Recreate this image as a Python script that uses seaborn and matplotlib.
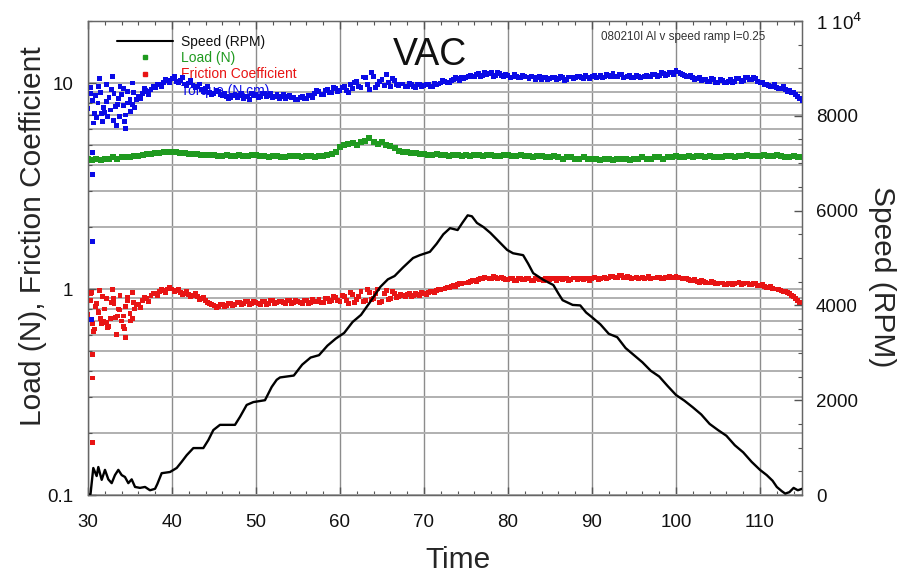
import numpy as np
import pandas as pd
import matplotlib
matplotlib.use("Agg")
import matplotlib.pyplot as plt
import seaborn as sns
from matplotlib.lines import Line2D
from matplotlib.ticker import LogLocator, FixedLocator, MultipleLocator, FuncFormatter, NullFormatter

# ---------------- data ----------------
# sampling grids for the scatter series (seconds)
TIME_GRID = np.arange(30.0, 115.01, 0.5)
TIME_GRID_B = np.arange(30.25, 114.8, 0.5)

TORQUE = [
    7.5, 8.2, 6.8, 9.0, 7.2, 8.5, 6.6, 7.9, 8.8, 7.0,
    8.3, 7.6, 8.6, 8.9, 9.1, 9.3, 9.5, 9.8, 10.1, 10.3,
    10.5, 10.2, 10.3, 9.9, 10.0, 9.7, 9.6, 9.3, 9.4, 9.0,
    8.9, 9.1, 8.7, 8.6, 8.5, 8.8, 8.7, 8.4, 8.6, 8.9,
    8.8, 8.6, 8.9, 8.7, 8.5, 8.8, 8.6, 8.4, 8.7, 8.5,
    8.3, 8.6, 8.4, 8.7, 8.9, 9.1, 8.8, 9.3, 9.0, 9.4,
    9.2, 9.6, 9.0, 9.4, 10.2, 9.5, 10.6, 9.3, 10.8, 9.8,
    10.4, 11.0, 9.6, 10.3, 9.7, 9.9, 9.6, 9.8, 9.5, 9.8,
    9.7, 9.9, 9.6, 9.8, 10.0, 10.2, 10.1, 10.4, 10.5, 10.7,
    10.6, 10.9, 10.8, 11.1, 10.9, 11.0, 11.2, 10.9, 11.1, 10.8,
    10.9, 10.7, 10.8, 10.6, 10.8, 10.5, 10.7, 10.6, 10.4, 10.6,
    10.5, 10.7, 10.5, 10.6, 10.4, 10.7, 10.6, 10.8, 10.5, 10.7,
    10.8, 10.6, 10.9, 10.7, 10.9, 11.1, 10.8, 11.0, 10.7, 10.9,
    10.6, 10.8, 10.7, 10.9, 10.8, 11.0, 10.9, 11.1, 11.0, 11.3,
    11.5, 11.1, 10.9, 10.8, 10.6, 10.5, 10.3, 10.4, 10.2, 10.4,
    10.1, 10.3, 10.0, 10.4, 10.2, 10.5, 10.3, 10.6, 10.4, 10.5,
    10.0, 9.8, 9.7, 9.6, 9.5, 9.4, 9.3, 9.2, 9.0, 8.6,
    8.2,
]
TORQUE_B = [
    8.9, 7.1, 9.6, 6.5, 8.1, 9.3, 7.7, 6.9, 9.4, 8.0,
    7.9, 8.3, 8.4, 9.4, 8.8, 9.6, 9.9, 9.6, 10.4, 10.0,
    10.8, 10.0, 10.6, 9.7, 10.3, 9.5, 9.9, 9.1, 9.6, 8.8,
    9.2, 8.8, 8.9, 8.4, 8.7, 8.5, 8.9, 8.6, 8.3, 8.7,
    8.5, 8.9, 8.6, 8.9, 8.6, 8.4, 8.8, 8.6, 8.5, 8.3,
    8.5, 8.4, 8.7, 8.5, 9.2, 8.8, 9.2, 9.0, 9.5, 9.1,
    9.5, 9.2, 9.8, 10.1, 9.6, 10.7, 9.8, 11.2, 9.5, 10.2,
    9.7, 10.1, 10.5, 9.8, 9.9, 9.6, 10.0, 9.6, 9.9, 9.6,
    9.8, 9.6, 10.0, 9.9, 10.3, 10.0, 10.3, 10.6, 10.3, 10.5,
    10.8, 10.7, 11.0, 10.8, 11.2, 11.1, 10.8, 11.3, 10.9, 11.0,
    10.6, 11.0, 10.6, 10.9, 10.7, 10.8, 10.4, 10.8, 10.7, 10.4,
    10.6, 10.4, 10.8, 10.3, 10.7, 10.5, 10.8, 10.6, 10.9, 10.5,
    10.9, 10.7, 10.6, 11.0, 10.7, 10.8, 11.0, 10.6, 10.8, 10.6,
    10.9, 10.6, 10.8, 10.7, 11.0, 10.8, 11.2, 10.9, 11.2, 11.0,
    11.3, 11.0, 10.7, 10.9, 10.4, 10.7, 10.4, 10.2, 10.5, 10.1,
    10.4, 10.1, 10.2, 10.0, 10.5, 10.2, 10.6, 10.4, 10.7, 10.2,
    10.1, 9.9, 9.6, 9.8, 9.4, 9.6, 9.1, 9.0, 8.8, 8.4,
]

LOAD = [
    4.30, 4.25, 4.30, 4.25, 4.30, 4.30, 4.35, 4.30, 4.35, 4.35,
    4.35, 4.40, 4.40, 4.45, 4.50, 4.50, 4.55, 4.55, 4.60, 4.60,
    4.60, 4.60, 4.55, 4.55, 4.50, 4.50, 4.50, 4.45, 4.45, 4.45,
    4.45, 4.40, 4.40, 4.45, 4.40, 4.40, 4.45, 4.40, 4.40, 4.45,
    4.45, 4.40, 4.40, 4.35, 4.40, 4.40, 4.35, 4.35, 4.40, 4.40,
    4.40, 4.35, 4.40, 4.40, 4.35, 4.40, 4.40, 4.45, 4.50, 4.60,
    4.90, 5.00, 5.05, 5.10, 5.00, 5.15, 5.25, 5.40, 5.20, 5.05,
    5.15, 5.00, 4.95, 4.85, 4.70, 4.65, 4.60, 4.55, 4.55, 4.50,
    4.50, 4.45, 4.45, 4.50, 4.45, 4.45, 4.40, 4.45, 4.45, 4.40,
    4.45, 4.40, 4.45, 4.45, 4.40, 4.45, 4.45, 4.40, 4.40, 4.45,
    4.45, 4.40, 4.40, 4.45, 4.40, 4.40, 4.35, 4.40, 4.40, 4.35,
    4.35, 4.40, 4.35, 4.30, 4.35, 4.35, 4.30, 4.30, 4.35, 4.30,
    4.30, 4.30, 4.25, 4.30, 4.30, 4.25, 4.30, 4.30, 4.30, 4.25,
    4.30, 4.30, 4.35, 4.30, 4.30, 4.35, 4.35, 4.30, 4.35, 4.35,
    4.40, 4.35, 4.35, 4.40, 4.35, 4.40, 4.40, 4.35, 4.40, 4.35,
    4.35, 4.35, 4.40, 4.40, 4.35, 4.40, 4.40, 4.45, 4.40, 4.40,
    4.40, 4.45, 4.40, 4.40, 4.45, 4.40, 4.35, 4.35, 4.40, 4.35,
    4.35,
]

FRICTION = [
    0.75, 0.68, 0.85, 0.72, 0.80, 0.66, 0.90, 0.74, 0.70, 0.82,
    0.76, 0.80, 0.84, 0.88, 0.90, 0.93, 0.95, 0.97, 0.98, 1.00,
    1.00, 0.98, 0.96, 0.95, 0.94, 0.93, 0.92, 0.90, 0.88, 0.85,
    0.83, 0.82, 0.84, 0.83, 0.85, 0.84, 0.86, 0.85, 0.87, 0.85,
    0.86, 0.84, 0.87, 0.85, 0.88, 0.86, 0.87, 0.85, 0.88, 0.86,
    0.87, 0.85, 0.88, 0.86, 0.87, 0.89, 0.86, 0.90, 0.88, 0.91,
    0.87, 0.92, 0.85, 0.94, 0.89, 0.97, 0.88, 0.96, 0.90, 1.00,
    0.87, 0.98, 0.90, 0.95, 0.92, 0.93, 0.94, 0.92, 0.95, 0.93,
    0.95, 0.96, 0.97, 0.98, 0.99, 1.01, 1.02, 1.04, 1.05, 1.06,
    1.07, 1.09, 1.10, 1.11, 1.12, 1.13, 1.12, 1.14, 1.13, 1.12,
    1.11, 1.12, 1.10, 1.12, 1.11, 1.13, 1.10, 1.12, 1.11, 1.12,
    1.11, 1.12, 1.13, 1.11, 1.12, 1.11, 1.13, 1.12, 1.11, 1.12,
    1.12, 1.13, 1.12, 1.14, 1.13, 1.15, 1.14, 1.16, 1.13, 1.14,
    1.13, 1.12, 1.14, 1.13, 1.12, 1.13, 1.14, 1.12, 1.13, 1.14,
    1.15, 1.13, 1.12, 1.11, 1.10, 1.09, 1.10, 1.08, 1.07, 1.08,
    1.06, 1.07, 1.05, 1.07, 1.06, 1.08, 1.06, 1.07, 1.05, 1.06,
    1.04, 1.03, 1.02, 1.01, 1.00, 0.98, 0.97, 0.95, 0.92, 0.88,
    0.85,
]
FRICTION_B = [
    0.88, 0.64, 0.77, 0.92, 0.69, 0.86, 0.73, 0.79, 0.66, 0.91,
    0.72, 0.84, 0.81, 0.91, 0.87, 0.95, 0.93, 0.99, 0.96, 1.02,
    0.97, 1.00, 0.94, 0.97, 0.92, 0.95, 0.89, 0.91, 0.86, 0.84,
    0.81, 0.84, 0.82, 0.85, 0.83, 0.86, 0.84, 0.87, 0.84, 0.87,
    0.85, 0.87, 0.84, 0.88, 0.85, 0.87, 0.86, 0.88, 0.85, 0.88,
    0.86, 0.88, 0.85, 0.89, 0.87, 0.86, 0.90, 0.87, 0.92, 0.88,
    0.93, 0.88, 0.96, 0.86, 0.92, 0.87, 0.99, 0.89, 0.95, 0.86,
    0.95, 0.89, 0.97, 0.91, 0.94, 0.92, 0.95, 0.93, 0.94, 0.96,
    0.94, 0.97, 0.96, 0.99, 1.00, 1.02, 1.03, 1.03, 1.06, 1.07,
    1.08, 1.10, 1.09, 1.12, 1.14, 1.12, 1.15, 1.12, 1.14, 1.11,
    1.13, 1.10, 1.13, 1.11, 1.12, 1.10, 1.13, 1.11, 1.10, 1.13,
    1.12, 1.10, 1.12, 1.13, 1.10, 1.13, 1.11, 1.13, 1.12, 1.10,
    1.14, 1.11, 1.13, 1.12, 1.15, 1.13, 1.16, 1.14, 1.15, 1.12,
    1.14, 1.13, 1.12, 1.15, 1.13, 1.14, 1.12, 1.14, 1.15, 1.13,
    1.14, 1.12, 1.13, 1.10, 1.11, 1.08, 1.09, 1.07, 1.09, 1.06,
    1.07, 1.05, 1.06, 1.05, 1.07, 1.05, 1.07, 1.05, 1.06, 1.04,
    1.05, 1.02, 1.03, 1.00, 0.99, 0.97, 0.96, 0.93, 0.90, 0.86,
]

# extra scattered samples during the noisy start-up phase
EARLY_TIME = [30.3, 30.7, 31.2, 31.4, 31.8, 32.2, 32.3, 32.7, 33.1, 33.4, 33.8,
              34.2, 34.3, 34.7, 35.1, 35.3, 30.9, 31.6, 32.9, 33.6, 34.5, 35.4]
EARLY_TORQUE = [9.5, 6.4, 8.0, 10.5, 7.6, 9.8, 6.9, 7.4, 8.9, 6.2, 9.6,
                7.8, 6.5, 9.1, 7.3, 10.0, 8.7, 7.1, 10.8, 8.4, 6.0, 9.0]
EARLY_FRICTION = [0.95, 0.62, 0.78, 0.98, 0.70, 0.90, 0.65, 0.72, 0.85, 0.60, 0.93,
                  0.74, 0.64, 0.88, 0.70, 0.96, 0.82, 0.68, 0.99, 0.80, 0.58, 0.86]
OUTLIER_TIME = [30.5, 30.5, 30.5, 30.45]
OUTLIER_TORQUE = [4.6, 3.6, 1.7, 0.71]
OUTLIER_FRICTION = [0.48, 0.37, 0.18, 0.96]

SPEED_TIME = [30.0, 30.3, 30.63, 31.03, 31.23, 31.63, 32.02, 32.42, 32.82, 33.21,
              33.61, 34.01, 34.40, 34.80, 35.2, 35.6, 36.19, 36.79, 37.38, 37.98,
              38.25, 38.77, 39.76, 40.56, 41.15, 41.75, 42.54, 43.73, 44.33, 44.92,
              45.71, 47.50, 48.1, 48.89, 49.68, 51.07, 51.87, 52.46, 52.86, 54.5,
              55.5, 56.5, 57.5, 58.5, 59.5, 60.5, 61.5, 62.5, 63.5, 64.8,
              65.7, 66.5, 67.5, 68.7, 69.5, 70.7, 71.5, 72.3, 73.1, 74.0,
              74.6, 75.2, 75.7, 76.3, 77.1, 77.9, 78.9, 79.9, 80.6, 81.8,
              82.4, 83.0, 84.2, 85.4, 86.0, 86.5, 87.7, 88.6, 89.3, 90.0,
              91.0, 92.0, 93.0, 94.0, 95.0, 96.0, 97.0, 98.0, 99.0, 100.0,
              101.0, 102.0, 103.0, 104.0, 105.0, 106.0, 107.0, 108.0, 109.0, 110.0,
              110.8, 111.5, 112.0, 112.6, 113.0, 113.5, 114.0, 114.5, 115.0]
SPEED_RPM = [0, 20, 570, 400, 590, 320, 530, 330, 250, 420,
             530, 420, 380, 250, 330, 170, 150, 170, 100, 130,
             230, 460, 485, 570, 700, 840, 990, 990, 1160, 1370,
             1480, 1480, 1650, 1900, 1960, 2000, 2280, 2430, 2480, 2520,
             2750, 2900, 2950, 3150, 3300, 3420, 3650, 3800, 4050, 4390,
             4550, 4620, 4800, 5000, 5060, 5130, 5300, 5500, 5630, 5590,
             5750, 5900, 5880, 5740, 5650, 5530, 5350, 5170, 5100, 5060,
             4880, 4680, 4540, 4430, 4250, 4110, 4010, 4000, 3850, 3750,
             3600, 3400, 3330, 3100, 2950, 2800, 2620, 2500, 2300, 2110,
             1990, 1850, 1700, 1500, 1370, 1250, 1050, 900, 700, 530,
             420, 300, 170, 80, 30, 60, 150, 100, 130]

# ---------------- styling ----------------
sns.set_style("white")
plt.rcParams['font.family'] = ['Liberation Sans', 'DejaVu Sans']

GREEN = '#1f9a1f'
RED = '#e81414'
BLUE = '#0a0ae6'

n_a, n_b, n_e, n_o = len(TIME_GRID), len(TIME_GRID_B), len(EARLY_TIME), len(OUTLIER_TIME)
scat = pd.DataFrame({
    'time': np.concatenate([TIME_GRID,
                            TIME_GRID, TIME_GRID_B, EARLY_TIME, OUTLIER_TIME,
                            TIME_GRID, TIME_GRID_B, EARLY_TIME, OUTLIER_TIME]),
    'value': np.concatenate([LOAD,
                             FRICTION, FRICTION_B, EARLY_FRICTION, OUTLIER_FRICTION,
                             TORQUE, TORQUE_B, EARLY_TORQUE, OUTLIER_TORQUE]),
    'series': (['Load (N)'] * n_a
               + ['Friction Coefficient'] * (n_a + n_b + n_e + n_o)
               + ['Torque (N.cm)'] * (n_a + n_b + n_e + n_o)),
})
speed = pd.DataFrame({'time': SPEED_TIME, 'rpm': SPEED_RPM})

fig = plt.figure(figsize=(9.07, 5.74), dpi=100)
ax = fig.add_axes([88 / 907, 79 / 574, 714 / 907, 474 / 574])

load_df = scat[scat['series'] == 'Load (N)']
rest_df = scat[scat['series'] != 'Load (N)']
sns.scatterplot(data=load_df, x='time', y='value', color=GREEN,
                marker='s', s=15, linewidth=0, legend=False, ax=ax, zorder=3)
sns.scatterplot(data=rest_df, x='time', y='value', hue='series',
                palette={'Friction Coefficient': RED, 'Torque (N.cm)': BLUE},
                marker='s', s=12, linewidth=0, legend=False, ax=ax, zorder=3)

ax.set_yscale('log')
ax.set_xlim(30, 115)
ax.set_ylim(0.1, 20)
ax.yaxis.set_major_locator(FixedLocator([0.1, 1, 10]))
ax.yaxis.set_major_formatter(FuncFormatter(lambda v, p: {0.1: '0.1', 1: '1', 10: '10'}.get(round(v, 3), '')))
ax.yaxis.set_minor_locator(LogLocator(base=10, subs=np.arange(2, 10)))
ax.yaxis.set_minor_formatter(NullFormatter())
ax.xaxis.set_major_locator(MultipleLocator(10))
ax.xaxis.set_minor_locator(MultipleLocator(2))

ax.grid(which='both', axis='y', color='#b0b0b0', lw=1.4, zorder=0)
ax.grid(which='major', axis='x', color='#8c8c8c', lw=1.0, zorder=0)
ax.set_axisbelow(True)
ax.tick_params(which='both', direction='in', top=True, bottom=True, left=True, right=False,
               colors='#555555', labelcolor='#111111', labelsize=13.5)
ax.tick_params(which='major', length=6, width=1)
ax.tick_params(which='minor', length=3, width=0.8)
ax.tick_params(axis='x', which='major', pad=13.5)
ax.tick_params(axis='y', which='major', pad=10.5)
for s in ax.spines.values():
    s.set_color('#666666')
    s.set_linewidth(1.0)

ax.set_xlabel('Time', fontsize=21.5)
ax.xaxis.set_label_coords(0.518, -0.108)
ax.set_ylabel('Load (N), Friction Coefficient', fontsize=21.5)
ax.yaxis.set_label_coords(-0.058, 0.546)

ax2 = ax.twinx()
sns.lineplot(data=speed, x='time', y='rpm', color='black', lw=1.7, ax=ax2, sort=False)
ax2.set_ylim(0, 10000)
ax2.set_xlim(30, 115)
ax2.yaxis.set_major_locator(FixedLocator([0, 2000, 4000, 6000, 8000, 10000]))
ax2.yaxis.set_major_formatter(FuncFormatter(lambda v, p: '1 10$^{4}$' if v >= 10000 else f'{int(v)}'))
ax2.yaxis.set_minor_locator(MultipleLocator(500))
ax2.tick_params(which='both', direction='in', right=True, left=False, colors='#555555',
                labelcolor='#111111', labelsize=13.5)
ax2.tick_params(which='major', length=6, width=1, pad=10)
ax2.tick_params(which='minor', length=3, width=0.8)
ax2.grid(False)
ax2.set_xlabel('')
ax2.set_ylabel('Speed (RPM)', fontsize=21.5, rotation=270)
ax2.yaxis.set_label_coords(1.131, 0.46)
for s in ax2.spines.values():
    s.set_color('#666666')

handles = [
    Line2D([], [], color='black', lw=1.5),
    Line2D([], [], color=GREEN, marker='s', ms=2.5, ls='none'),
    Line2D([], [], color=RED, marker='s', ms=2.5, ls='none'),
    Line2D([], [], color=BLUE, marker='s', ms=2.5, ls='none'),
]
labels = ['Speed (RPM)', 'Load (N)', 'Friction Coefficient', 'Torque (N.cm)']
leg = ax.legend(handles, labels, loc='upper left', bbox_to_anchor=(0.0406, 0.971),
                frameon=False, fontsize=10, handlelength=4.0, handletextpad=0.6,
                labelspacing=0.17, borderaxespad=0, borderpad=0,
                labelcolor=['#111111', GREEN, RED, BLUE])
leg.set_zorder(2)

ax.text(0.479, 0.928, 'VAC', transform=ax.transAxes, ha='center', va='center', fontsize=27, color='#111111')
ax.text(0.833, 0.966, '080210I Al v speed ramp l=0.25', transform=ax.transAxes,
        ha='center', va='center', fontsize=8.4, color='#333333')

fig.savefig('out.png', dpi=100)
